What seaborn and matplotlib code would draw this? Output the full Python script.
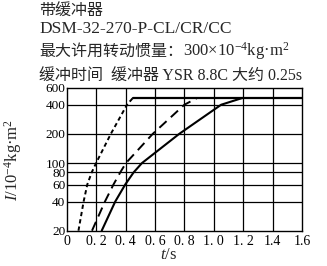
import matplotlib
matplotlib.use("Agg")
import matplotlib.pyplot as plt
import seaborn as sns
import pandas as pd

# data
t_short = [0.08, 0.115, 0.14, 0.17, 0.20, 0.30, 0.41, 0.45]
i_short = [20, 40, 60, 80, 100, 200, 400, 470]
t_dash = [0.172, 0.26, 0.318, 0.364, 0.403, 0.585, 0.80, 0.887]
i_dash = [20, 40, 60, 80, 100, 200, 400, 470]
t_solid = [0.238, 0.33, 0.398, 0.455, 0.512, 0.765, 1.05, 1.195]
i_solid = [20, 40, 60, 80, 100, 200, 400, 470]
t_plateau = [0.45, 1.6]
i_plateau = [470, 470]

x_ticks = [0, 0.2, 0.4, 0.6, 0.8, 1.0, 1.2, 1.4, 1.6]
x_labels = ["0", "0. 2", "0. 4", "0. 6", "0. 8", "1. 0", "1. 2", "1.4", "1.6"]
y_ticks = [20, 40, 60, 80, 100, 200, 400, 600]
y_labels = ["20", "40", "60", "80", "100", "200", "400", "600"]

line1 = "带缓冲器"
line2 = "DSM-32-270-P-CL/CR/CC"
line3a = "最大许用转动惯量："
line3b = r"300×10$^{-4}$kg·m$^{2}$"
line4 = "缓冲时间  缓冲器 YSR 8.8C 大约 0.25s"

sns.set_style("white")
fams = ['Liberation Serif', 'Noto Sans CJK SC', 'DejaVu Sans']
plt.rcParams['font.family'] = fams
plt.rcParams['mathtext.fontset'] = 'custom'
plt.rcParams['mathtext.rm'] = 'Liberation Serif'
plt.rcParams['mathtext.it'] = 'Liberation Serif:italic'

W, H = 327, 266
fig = plt.figure(figsize=(W/100, H/100), dpi=100)
ax = fig.add_axes([66.7/W, 1-230.7/H, (302-66.7)/W, (230.7-87.7)/H])

df_s = pd.DataFrame({"t": t_short, "I": i_short})
df_d = pd.DataFrame({"t": t_dash, "I": i_dash})
df_c = pd.DataFrame({"t": t_solid, "I": i_solid})
df_p = pd.DataFrame({"t": t_plateau, "I": i_plateau})

sns.lineplot(data=df_s, x="t", y="I", ax=ax, color="black", lw=1.4,
             linestyle=(0, (2.2, 1.6)), sort=False)
sns.lineplot(data=df_d, x="t", y="I", ax=ax, color="black", lw=1.4,
             linestyle=(0, (5, 3)), sort=False)
sns.lineplot(data=df_c, x="t", y="I", ax=ax, color="black", lw=1.5, sort=False)
sns.lineplot(data=df_p, x="t", y="I", ax=ax, color="black", lw=1.6, sort=False)

ax.set_yscale("log")
ax.set_xlim(0, 1.6)
ax.set_ylim(20, 600)
ax.set_xticks(x_ticks)
ax.set_xticklabels(x_labels)
ax.set_yticks(y_ticks)
ax.set_yticklabels(y_labels)
ax.minorticks_off()
ax.tick_params(axis="both", length=0, colors="black")
ax.tick_params(axis="x", pad=3, labelsize=10)
ax.tick_params(axis="y", pad=1, labelsize=9.5)
for xv in x_ticks[1:-1]:
    ax.axvline(xv, color="black", lw=0.9, zorder=0)
for yv in y_ticks[1:-1]:
    ax.axhline(yv, color="black", lw=0.9, zorder=0)
for s in ax.spines.values():
    s.set_color("black")
    s.set_linewidth(1.0)
ax.set_xlabel("")
ax.set_ylabel("")

fig.text(169/W, 1-255/H, r"$t$/s", ha="center", va="center", fontsize=12)
fig.text(13/W, 1-160/H, r"$I$/10$^{-4}$kg·m$^{2}$", ha="center", va="center",
         rotation=90, fontsize=12)

x0 = 39/W
fig.text(x0, 1-14.5/H, line1, ha="left", va="baseline", fontsize=11.5)
fig.text(x0, 1-33/H, line2, ha="left", va="baseline", fontsize=12.5)
t3 = fig.text(x0, 1-55.5/H, line3a, ha="left", va="baseline", fontsize=11.5)
fig.canvas.draw()
bb = t3.get_window_extent(renderer=fig.canvas.get_renderer())
fig.text(bb.x1/W, 1-55.5/H, line3b, ha="left", va="baseline", fontsize=12)
fig.text(x0, 1-79.5/H, line4, ha="left", va="baseline", fontsize=11.5)

fig.savefig("out.png", dpi=100, facecolor="white")
